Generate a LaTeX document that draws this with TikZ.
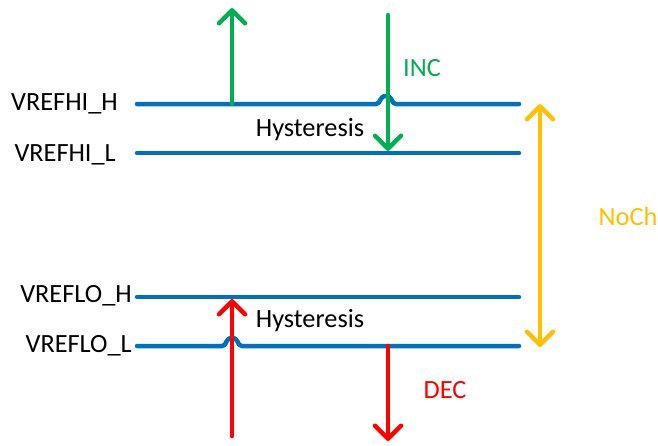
\documentclass[tikz,border=0pt]{standalone}
\usepackage{fontspec}
\setmainfont{Carlito}
\usetikzlibrary{arrows.meta}
\definecolor{lblue}{RGB}{0,112,192}
\definecolor{lgreen}{RGB}{0,176,80}
\definecolor{lred}{RGB}{255,0,0}
\definecolor{lorange}{RGB}{255,192,0}
\begin{document}
\begin{tikzpicture}[x=1pt,y=-1pt,
  level/.style={draw=lblue,line width=4.5pt,line cap=round,line join=round},
  tip/.tip={Straight Barb[length=13pt,width=26pt,line cap=round,line join=round]},
  arr/.style={line width=4.5pt,line cap=round,line join=round,-tip},
  darr/.style={line width=4.5pt,line cap=round,line join=round,tip-tip},
  lbl/.style={inner sep=0pt,font=\fontsize{26.3}{30}\selectfont},
  lft/.style={lbl,anchor=east}]
\useasboundingbox (0,0) rectangle (658,445);
% level coordinates
\coordinate (hhL) at (137,104); \coordinate (hhR) at (519,104);
\coordinate (hlL) at (137,153); \coordinate (hlR) at (519,153);
\coordinate (lhL) at (137,297); \coordinate (lhR) at (519,297);
\coordinate (llL) at (137,346); \coordinate (llR) at (519,346);
% levels
\draw[level] (hhL) -- (376,104) .. controls (381,104) and (379,96) .. (386,96)
  .. controls (393,96) and (391,104) .. (396,104) -- (hhR);
\draw[level] (hlL) -- (hlR);
\draw[level] (lhL) -- (lhR);
\draw[level] (llL) -- (222,346) .. controls (227,346) and (225,338) .. (232,338)
  .. controls (239,338) and (237,346) .. (242,346) -- (llR);
% labels
\node[lft] (t1) at (118,104) {VREFHI\_H};
\node[lft] (t2) at (116,155) {VREFHI\_L};
\node[lft] (t3) at (132,296) {VREFLO\_H};
\node[lft] (t4) at (132,346) {VREFLO\_L};
\node[lbl] (h1) at (310,130) {Hysteresis};
\node[lbl] (h2) at (310,321) {Hysteresis};
\node[lbl,text=lgreen] (inc) at (422,68) {INC};
\node[lbl,text=lorange] (noch) at (628,216) {NoCh};
\node[lbl,text=lred] (dec) at (445,390) {DEC};
% arrows
\coordinate (g1s) at (232,104); \coordinate (g1e) at (232,8);
\coordinate (g2s) at (388,15); \coordinate (g2e) at (388,151);
\coordinate (r1s) at (232,436); \coordinate (r1e) at (232,299);
\coordinate (r2s) at (388,346); \coordinate (r2e) at (388,441);
\coordinate (o1) at (540,104); \coordinate (o2) at (540,347);
\draw[arr,lgreen] (g1s) -- (g1e);
\draw[arr,lgreen] (g2s) -- (g2e);
\draw[arr,lred] (r1s) -- (r1e);
\draw[arr,lred] (r2s) -- (r2e);
\draw[darr,lorange] (o1) -- (o2);
\end{tikzpicture}
\end{document}
